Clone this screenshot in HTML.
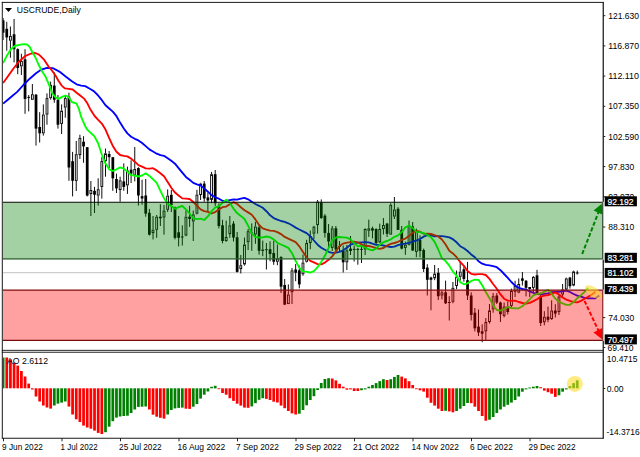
<!DOCTYPE html><html><head><meta charset="utf-8"><title>USCRUDE Daily</title>
<style>html,body{margin:0;padding:0;background:#fff}svg{display:block}text{font-family:"Liberation Sans",sans-serif;}</style></head><body>
<svg width="640" height="457" viewBox="0 0 640 457">
<rect x="0" y="0" width="640" height="457" fill="#fff"/>
<defs><clipPath id="cm"><rect x="2.8" y="2.9" width="599.7" height="347"/></clipPath><clipPath id="ca"><rect x="2.8" y="353" width="599.7" height="85"/></clipPath></defs>
<line x1="3" x2="603" y1="272.7" y2="272.7" stroke="#c0c0c0" stroke-width="0.95"/>
<g clip-path="url(#cm)">
<line x1="3.10" x2="3.10" y1="18.0" y2="40.0" stroke="#000" stroke-width="0.95"/>
<rect x="1.73" y="20.3" width="2.75" height="12.4" fill="#000"/>
<line x1="6.76" x2="6.76" y1="21.8" y2="50.7" stroke="#000" stroke-width="0.95"/>
<rect x="5.38" y="28.8" width="2.75" height="8.6" fill="#000"/>
<line x1="10.41" x2="10.41" y1="26.5" y2="35.9" stroke="#000" stroke-width="0.95"/>
<line x1="10.41" x2="10.41" y1="40.6" y2="57.8" stroke="#000" stroke-width="0.95"/>
<rect x="9.50" y="36.4" width="1.83" height="3.8" fill="#fff" stroke="#000" stroke-width="0.92"/>
<line x1="14.07" x2="14.07" y1="19.0" y2="62.4" stroke="#000" stroke-width="0.95"/>
<rect x="12.70" y="34.3" width="2.75" height="14.9" fill="#000"/>
<line x1="17.73" x2="17.73" y1="48.4" y2="74.2" stroke="#000" stroke-width="0.95"/>
<rect x="16.35" y="49.2" width="2.75" height="18.8" fill="#000"/>
<line x1="21.39" x2="21.39" y1="53.8" y2="60.9" stroke="#000" stroke-width="0.95"/>
<line x1="21.39" x2="21.39" y1="66.3" y2="75.0" stroke="#000" stroke-width="0.95"/>
<rect x="20.47" y="61.4" width="1.83" height="4.5" fill="#fff" stroke="#000" stroke-width="0.92"/>
<line x1="25.04" x2="25.04" y1="49.2" y2="113.8" stroke="#000" stroke-width="0.95"/>
<rect x="23.67" y="59.3" width="2.75" height="39.6" fill="#000"/>
<line x1="28.70" x2="28.70" y1="95.0" y2="111.4" stroke="#000" stroke-width="0.95"/>
<line x1="27.32" x2="30.07" y1="97.4" y2="97.4" stroke="#000" stroke-width="0.95"/>
<line x1="32.36" x2="32.36" y1="84.0" y2="94.2" stroke="#000" stroke-width="0.95"/>
<line x1="32.36" x2="32.36" y1="99.7" y2="99.7" stroke="#000" stroke-width="0.95"/>
<rect x="31.44" y="94.7" width="1.83" height="4.6" fill="#fff" stroke="#000" stroke-width="0.92"/>
<line x1="36.01" x2="36.01" y1="94.0" y2="145.6" stroke="#000" stroke-width="0.95"/>
<rect x="34.64" y="94.7" width="2.75" height="33.9" fill="#000"/>
<line x1="39.67" x2="39.67" y1="112.2" y2="142.5" stroke="#000" stroke-width="0.95"/>
<rect x="38.30" y="127.0" width="2.75" height="6.3" fill="#000"/>
<line x1="43.33" x2="43.33" y1="104.4" y2="114.5" stroke="#000" stroke-width="0.95"/>
<line x1="43.33" x2="43.33" y1="133.3" y2="135.6" stroke="#000" stroke-width="0.95"/>
<rect x="42.41" y="115.0" width="1.83" height="17.9" fill="#fff" stroke="#000" stroke-width="0.92"/>
<line x1="46.98" x2="46.98" y1="93.4" y2="98.1" stroke="#000" stroke-width="0.95"/>
<line x1="46.98" x2="46.98" y1="114.5" y2="124.7" stroke="#000" stroke-width="0.95"/>
<rect x="46.07" y="98.6" width="1.83" height="15.5" fill="#fff" stroke="#000" stroke-width="0.92"/>
<line x1="50.64" x2="50.64" y1="81.7" y2="84.8" stroke="#000" stroke-width="0.95"/>
<line x1="50.64" x2="50.64" y1="98.1" y2="99.7" stroke="#000" stroke-width="0.95"/>
<rect x="49.73" y="85.3" width="1.83" height="12.4" fill="#fff" stroke="#000" stroke-width="0.92"/>
<line x1="54.30" x2="54.30" y1="72.3" y2="102.8" stroke="#000" stroke-width="0.95"/>
<rect x="52.92" y="85.6" width="2.75" height="14.1" fill="#000"/>
<line x1="57.96" x2="57.96" y1="95.0" y2="128.6" stroke="#000" stroke-width="0.95"/>
<rect x="56.58" y="99.7" width="2.75" height="25.0" fill="#000"/>
<line x1="61.61" x2="61.61" y1="104.4" y2="110.6" stroke="#000" stroke-width="0.95"/>
<line x1="61.61" x2="61.61" y1="123.9" y2="134.0" stroke="#000" stroke-width="0.95"/>
<rect x="60.70" y="111.1" width="1.83" height="12.4" fill="#fff" stroke="#000" stroke-width="0.92"/>
<line x1="65.27" x2="65.27" y1="95.8" y2="98.1" stroke="#000" stroke-width="0.95"/>
<line x1="65.27" x2="65.27" y1="107.5" y2="117.7" stroke="#000" stroke-width="0.95"/>
<rect x="64.35" y="98.6" width="1.83" height="8.5" fill="#fff" stroke="#000" stroke-width="0.92"/>
<line x1="68.93" x2="68.93" y1="92.7" y2="180.8" stroke="#000" stroke-width="0.95"/>
<rect x="67.55" y="96.6" width="2.75" height="70.9" fill="#000"/>
<line x1="72.58" x2="72.58" y1="151.9" y2="196.4" stroke="#000" stroke-width="0.95"/>
<rect x="71.21" y="161.2" width="2.75" height="19.6" fill="#000"/>
<line x1="76.24" x2="76.24" y1="141.0" y2="154.2" stroke="#000" stroke-width="0.95"/>
<line x1="76.24" x2="76.24" y1="180.8" y2="191.0" stroke="#000" stroke-width="0.95"/>
<rect x="75.32" y="154.7" width="1.83" height="25.7" fill="#fff" stroke="#000" stroke-width="0.92"/>
<line x1="79.90" x2="79.90" y1="134.7" y2="137.8" stroke="#000" stroke-width="0.95"/>
<line x1="79.90" x2="79.90" y1="155.0" y2="159.0" stroke="#000" stroke-width="0.95"/>
<rect x="78.98" y="138.3" width="1.83" height="16.3" fill="#fff" stroke="#000" stroke-width="0.92"/>
<line x1="83.55" x2="83.55" y1="136.2" y2="162.8" stroke="#000" stroke-width="0.95"/>
<rect x="82.18" y="141.7" width="2.75" height="4.7" fill="#000"/>
<line x1="87.21" x2="87.21" y1="147.2" y2="196.4" stroke="#000" stroke-width="0.95"/>
<rect x="85.84" y="147.2" width="2.75" height="48.4" fill="#000"/>
<line x1="90.87" x2="90.87" y1="181.0" y2="190.0" stroke="#000" stroke-width="0.95"/>
<line x1="90.87" x2="90.87" y1="194.0" y2="216.0" stroke="#000" stroke-width="0.95"/>
<rect x="89.95" y="190.5" width="1.83" height="3.1" fill="#fff" stroke="#000" stroke-width="0.92"/>
<line x1="94.52" x2="94.52" y1="186.9" y2="213.0" stroke="#000" stroke-width="0.95"/>
<rect x="93.15" y="190.8" width="2.75" height="3.9" fill="#000"/>
<line x1="98.18" x2="98.18" y1="178.3" y2="189.2" stroke="#000" stroke-width="0.95"/>
<line x1="98.18" x2="98.18" y1="195.5" y2="205.6" stroke="#000" stroke-width="0.95"/>
<rect x="97.27" y="189.7" width="1.83" height="5.4" fill="#fff" stroke="#000" stroke-width="0.92"/>
<line x1="101.84" x2="101.84" y1="157.2" y2="161.1" stroke="#000" stroke-width="0.95"/>
<line x1="101.84" x2="101.84" y1="186.9" y2="198.6" stroke="#000" stroke-width="0.95"/>
<rect x="100.92" y="161.6" width="1.83" height="24.9" fill="#fff" stroke="#000" stroke-width="0.92"/>
<line x1="105.50" x2="105.50" y1="148.6" y2="153.3" stroke="#000" stroke-width="0.95"/>
<line x1="105.50" x2="105.50" y1="161.1" y2="176.7" stroke="#000" stroke-width="0.95"/>
<rect x="104.58" y="153.8" width="1.83" height="6.9" fill="#fff" stroke="#000" stroke-width="0.92"/>
<line x1="109.15" x2="109.15" y1="151.0" y2="168.0" stroke="#000" stroke-width="0.95"/>
<rect x="107.78" y="154.0" width="2.75" height="3.2" fill="#000"/>
<line x1="112.81" x2="112.81" y1="157.2" y2="190.8" stroke="#000" stroke-width="0.95"/>
<rect x="111.44" y="157.2" width="2.75" height="21.1" fill="#000"/>
<line x1="116.47" x2="116.47" y1="173.6" y2="193.0" stroke="#000" stroke-width="0.95"/>
<rect x="115.09" y="179.0" width="2.75" height="9.4" fill="#000"/>
<line x1="120.12" x2="120.12" y1="176.7" y2="180.3" stroke="#000" stroke-width="0.95"/>
<line x1="120.12" x2="120.12" y1="190.0" y2="201.7" stroke="#000" stroke-width="0.95"/>
<rect x="119.21" y="180.8" width="1.83" height="8.8" fill="#fff" stroke="#000" stroke-width="0.92"/>
<line x1="123.78" x2="123.78" y1="163.4" y2="190.8" stroke="#000" stroke-width="0.95"/>
<rect x="122.41" y="181.4" width="2.75" height="5.5" fill="#000"/>
<line x1="127.44" x2="127.44" y1="166.6" y2="170.5" stroke="#000" stroke-width="0.95"/>
<line x1="127.44" x2="127.44" y1="185.3" y2="193.9" stroke="#000" stroke-width="0.95"/>
<rect x="126.52" y="171.0" width="1.83" height="13.9" fill="#fff" stroke="#000" stroke-width="0.92"/>
<line x1="131.09" x2="131.09" y1="160.3" y2="183.0" stroke="#000" stroke-width="0.95"/>
<rect x="129.72" y="169.7" width="2.75" height="3.9" fill="#000"/>
<line x1="134.75" x2="134.75" y1="147.0" y2="168.9" stroke="#000" stroke-width="0.95"/>
<line x1="134.75" x2="134.75" y1="175.2" y2="181.4" stroke="#000" stroke-width="0.95"/>
<rect x="133.84" y="169.4" width="1.83" height="5.4" fill="#fff" stroke="#000" stroke-width="0.92"/>
<line x1="138.41" x2="138.41" y1="167.3" y2="205.6" stroke="#000" stroke-width="0.95"/>
<rect x="137.03" y="168.1" width="2.75" height="27.4" fill="#000"/>
<line x1="142.07" x2="142.07" y1="179.8" y2="204.8" stroke="#000" stroke-width="0.95"/>
<rect x="140.69" y="196.2" width="2.75" height="2.3" fill="#000"/>
<line x1="145.72" x2="145.72" y1="179.0" y2="216.7" stroke="#000" stroke-width="0.95"/>
<rect x="144.35" y="195.5" width="2.75" height="18.1" fill="#000"/>
<line x1="149.38" x2="149.38" y1="208.9" y2="235.5" stroke="#000" stroke-width="0.95"/>
<rect x="148.00" y="212.8" width="2.75" height="21.9" fill="#000"/>
<line x1="153.04" x2="153.04" y1="216.0" y2="229.7" stroke="#000" stroke-width="0.95"/>
<line x1="153.04" x2="153.04" y1="233.0" y2="239.4" stroke="#000" stroke-width="0.95"/>
<rect x="152.12" y="230.2" width="1.83" height="2.4" fill="#fff" stroke="#000" stroke-width="0.92"/>
<line x1="156.69" x2="156.69" y1="215.0" y2="216.7" stroke="#000" stroke-width="0.95"/>
<line x1="156.69" x2="156.69" y1="229.7" y2="237.8" stroke="#000" stroke-width="0.95"/>
<rect x="155.78" y="217.2" width="1.83" height="12.1" fill="#fff" stroke="#000" stroke-width="0.92"/>
<line x1="160.35" x2="160.35" y1="204.2" y2="226.0" stroke="#000" stroke-width="0.95"/>
<rect x="158.98" y="216.7" width="2.75" height="1.6" fill="#000"/>
<line x1="164.01" x2="164.01" y1="205.0" y2="210.5" stroke="#000" stroke-width="0.95"/>
<line x1="164.01" x2="164.01" y1="217.5" y2="234.7" stroke="#000" stroke-width="0.95"/>
<rect x="163.09" y="211.0" width="1.83" height="6.1" fill="#fff" stroke="#000" stroke-width="0.92"/>
<line x1="167.66" x2="167.66" y1="189.4" y2="195.6" stroke="#000" stroke-width="0.95"/>
<line x1="167.66" x2="167.66" y1="209.7" y2="212.0" stroke="#000" stroke-width="0.95"/>
<rect x="166.75" y="196.1" width="1.83" height="13.2" fill="#fff" stroke="#000" stroke-width="0.92"/>
<line x1="171.32" x2="171.32" y1="190.0" y2="212.0" stroke="#000" stroke-width="0.95"/>
<rect x="169.95" y="194.8" width="2.75" height="10.2" fill="#000"/>
<line x1="174.98" x2="174.98" y1="206.6" y2="239.4" stroke="#000" stroke-width="0.95"/>
<rect x="173.60" y="207.3" width="2.75" height="30.5" fill="#000"/>
<line x1="178.64" x2="178.64" y1="216.0" y2="246.4" stroke="#000" stroke-width="0.95"/>
<rect x="177.26" y="232.3" width="2.75" height="5.5" fill="#000"/>
<line x1="182.29" x2="182.29" y1="225.3" y2="245.6" stroke="#000" stroke-width="0.95"/>
<line x1="180.92" x2="183.67" y1="237.0" y2="237.0" stroke="#000" stroke-width="0.95"/>
<line x1="185.95" x2="185.95" y1="210.5" y2="216.7" stroke="#000" stroke-width="0.95"/>
<line x1="185.95" x2="185.95" y1="235.5" y2="236.2" stroke="#000" stroke-width="0.95"/>
<rect x="185.03" y="217.2" width="1.83" height="17.9" fill="#fff" stroke="#000" stroke-width="0.92"/>
<line x1="189.61" x2="189.61" y1="205.8" y2="226.9" stroke="#000" stroke-width="0.95"/>
<rect x="188.23" y="216.7" width="2.75" height="2.3" fill="#000"/>
<line x1="193.26" x2="193.26" y1="210.5" y2="214.4" stroke="#000" stroke-width="0.95"/>
<line x1="193.26" x2="193.26" y1="221.4" y2="241.0" stroke="#000" stroke-width="0.95"/>
<rect x="192.35" y="214.9" width="1.83" height="6.1" fill="#fff" stroke="#000" stroke-width="0.92"/>
<line x1="196.92" x2="196.92" y1="189.8" y2="194.6" stroke="#000" stroke-width="0.95"/>
<line x1="196.92" x2="196.92" y1="213.6" y2="214.4" stroke="#000" stroke-width="0.95"/>
<rect x="196.01" y="195.1" width="1.83" height="18.1" fill="#fff" stroke="#000" stroke-width="0.92"/>
<line x1="200.58" x2="200.58" y1="182.8" y2="183.6" stroke="#000" stroke-width="0.95"/>
<line x1="200.58" x2="200.58" y1="195.0" y2="200.0" stroke="#000" stroke-width="0.95"/>
<rect x="199.66" y="184.1" width="1.83" height="10.5" fill="#fff" stroke="#000" stroke-width="0.92"/>
<line x1="204.23" x2="204.23" y1="181.0" y2="201.7" stroke="#000" stroke-width="0.95"/>
<rect x="202.86" y="183.6" width="2.75" height="14.9" fill="#000"/>
<line x1="207.89" x2="207.89" y1="192.5" y2="211.2" stroke="#000" stroke-width="0.95"/>
<rect x="206.52" y="197.4" width="2.75" height="3.1" fill="#000"/>
<line x1="211.55" x2="211.55" y1="171.9" y2="174.2" stroke="#000" stroke-width="0.95"/>
<line x1="211.55" x2="211.55" y1="199.8" y2="203.2" stroke="#000" stroke-width="0.95"/>
<rect x="210.63" y="174.7" width="1.83" height="24.7" fill="#fff" stroke="#000" stroke-width="0.92"/>
<line x1="215.21" x2="215.21" y1="170.0" y2="206.0" stroke="#000" stroke-width="0.95"/>
<rect x="213.83" y="174.2" width="2.75" height="29.0" fill="#000"/>
<line x1="218.86" x2="218.86" y1="203.4" y2="228.4" stroke="#000" stroke-width="0.95"/>
<rect x="217.49" y="205.8" width="2.75" height="20.2" fill="#000"/>
<line x1="222.52" x2="222.52" y1="219.8" y2="243.3" stroke="#000" stroke-width="0.95"/>
<rect x="221.15" y="225.3" width="2.75" height="15.7" fill="#000"/>
<line x1="226.18" x2="226.18" y1="220.6" y2="237.0" stroke="#000" stroke-width="0.95"/>
<line x1="226.18" x2="226.18" y1="241.0" y2="241.7" stroke="#000" stroke-width="0.95"/>
<rect x="225.26" y="237.5" width="1.83" height="3.1" fill="#fff" stroke="#000" stroke-width="0.92"/>
<line x1="229.83" x2="229.83" y1="216.0" y2="225.3" stroke="#000" stroke-width="0.95"/>
<line x1="229.83" x2="229.83" y1="234.0" y2="237.8" stroke="#000" stroke-width="0.95"/>
<rect x="228.92" y="225.8" width="1.83" height="7.8" fill="#fff" stroke="#000" stroke-width="0.92"/>
<line x1="233.49" x2="233.49" y1="221.2" y2="241.5" stroke="#000" stroke-width="0.95"/>
<rect x="232.12" y="223.6" width="2.75" height="14.0" fill="#000"/>
<line x1="237.15" x2="237.15" y1="232.0" y2="272.5" stroke="#000" stroke-width="0.95"/>
<rect x="235.77" y="237.3" width="2.75" height="34.6" fill="#000"/>
<line x1="240.81" x2="240.81" y1="255.0" y2="265.2" stroke="#000" stroke-width="0.95"/>
<line x1="240.81" x2="240.81" y1="269.0" y2="273.4" stroke="#000" stroke-width="0.95"/>
<rect x="239.89" y="265.7" width="1.83" height="2.9" fill="#fff" stroke="#000" stroke-width="0.92"/>
<line x1="244.46" x2="244.46" y1="237.5" y2="244.5" stroke="#000" stroke-width="0.95"/>
<line x1="244.46" x2="244.46" y1="264.4" y2="265.6" stroke="#000" stroke-width="0.95"/>
<rect x="243.55" y="245.0" width="1.83" height="19.0" fill="#fff" stroke="#000" stroke-width="0.92"/>
<line x1="248.12" x2="248.12" y1="229.0" y2="231.2" stroke="#000" stroke-width="0.95"/>
<line x1="248.12" x2="248.12" y1="242.2" y2="250.0" stroke="#000" stroke-width="0.95"/>
<rect x="247.20" y="231.7" width="1.83" height="10.0" fill="#fff" stroke="#000" stroke-width="0.92"/>
<line x1="251.78" x2="251.78" y1="223.4" y2="250.8" stroke="#000" stroke-width="0.95"/>
<line x1="250.40" x2="253.15" y1="233.0" y2="233.0" stroke="#000" stroke-width="0.95"/>
<line x1="255.43" x2="255.43" y1="221.9" y2="226.5" stroke="#000" stroke-width="0.95"/>
<line x1="255.43" x2="255.43" y1="234.4" y2="243.8" stroke="#000" stroke-width="0.95"/>
<rect x="254.52" y="227.0" width="1.83" height="7.0" fill="#fff" stroke="#000" stroke-width="0.92"/>
<line x1="259.09" x2="259.09" y1="225.0" y2="254.7" stroke="#000" stroke-width="0.95"/>
<rect x="257.72" y="227.3" width="2.75" height="23.5" fill="#000"/>
<line x1="262.75" x2="262.75" y1="240.6" y2="249.5" stroke="#000" stroke-width="0.95"/>
<line x1="262.75" x2="262.75" y1="250.8" y2="256.2" stroke="#000" stroke-width="0.95"/>
<rect x="261.83" y="250.0" width="1.83" height="0.5" fill="#fff" stroke="#000" stroke-width="0.92"/>
<line x1="266.40" x2="266.40" y1="243.0" y2="269.5" stroke="#000" stroke-width="0.95"/>
<line x1="265.03" x2="267.78" y1="249.7" y2="249.7" stroke="#000" stroke-width="0.95"/>
<line x1="270.06" x2="270.06" y1="241.4" y2="261.3" stroke="#000" stroke-width="0.95"/>
<rect x="268.69" y="249.2" width="2.75" height="4.8" fill="#000"/>
<line x1="273.72" x2="273.72" y1="240.6" y2="264.8" stroke="#000" stroke-width="0.95"/>
<rect x="272.34" y="253.0" width="2.75" height="8.7" fill="#000"/>
<line x1="277.38" x2="277.38" y1="244.5" y2="258.6" stroke="#000" stroke-width="0.95"/>
<line x1="277.38" x2="277.38" y1="261.7" y2="265.2" stroke="#000" stroke-width="0.95"/>
<rect x="276.46" y="259.1" width="1.83" height="2.2" fill="#fff" stroke="#000" stroke-width="0.92"/>
<line x1="281.03" x2="281.03" y1="256.2" y2="293.0" stroke="#000" stroke-width="0.95"/>
<rect x="279.66" y="257.0" width="2.75" height="29.7" fill="#000"/>
<line x1="284.69" x2="284.69" y1="279.0" y2="304.7" stroke="#000" stroke-width="0.95"/>
<rect x="283.31" y="285.0" width="2.75" height="19.7" fill="#000"/>
<line x1="288.35" x2="288.35" y1="284.4" y2="294.5" stroke="#000" stroke-width="0.95"/>
<line x1="288.35" x2="288.35" y1="304.0" y2="304.0" stroke="#000" stroke-width="0.95"/>
<rect x="287.43" y="295.0" width="1.83" height="8.6" fill="#fff" stroke="#000" stroke-width="0.92"/>
<line x1="292.00" x2="292.00" y1="268.0" y2="270.3" stroke="#000" stroke-width="0.95"/>
<line x1="292.00" x2="292.00" y1="292.2" y2="304.0" stroke="#000" stroke-width="0.95"/>
<rect x="291.09" y="270.8" width="1.83" height="21.0" fill="#fff" stroke="#000" stroke-width="0.92"/>
<line x1="295.66" x2="295.66" y1="264.0" y2="281.2" stroke="#000" stroke-width="0.95"/>
<rect x="294.29" y="269.5" width="2.75" height="3.2" fill="#000"/>
<line x1="299.32" x2="299.32" y1="265.6" y2="288.3" stroke="#000" stroke-width="0.95"/>
<rect x="297.94" y="270.3" width="2.75" height="14.1" fill="#000"/>
<line x1="302.97" x2="302.97" y1="254.7" y2="262.5" stroke="#000" stroke-width="0.95"/>
<line x1="302.97" x2="302.97" y1="274.2" y2="275.8" stroke="#000" stroke-width="0.95"/>
<rect x="302.06" y="263.0" width="1.83" height="10.8" fill="#fff" stroke="#000" stroke-width="0.92"/>
<line x1="306.63" x2="306.63" y1="239.8" y2="243.0" stroke="#000" stroke-width="0.95"/>
<line x1="306.63" x2="306.63" y1="261.7" y2="262.5" stroke="#000" stroke-width="0.95"/>
<rect x="305.72" y="243.5" width="1.83" height="17.8" fill="#fff" stroke="#000" stroke-width="0.92"/>
<line x1="310.29" x2="310.29" y1="230.5" y2="236.0" stroke="#000" stroke-width="0.95"/>
<line x1="310.29" x2="310.29" y1="243.0" y2="249.2" stroke="#000" stroke-width="0.95"/>
<rect x="309.37" y="236.5" width="1.83" height="6.1" fill="#fff" stroke="#000" stroke-width="0.92"/>
<line x1="313.95" x2="313.95" y1="225.8" y2="226.6" stroke="#000" stroke-width="0.95"/>
<line x1="313.95" x2="313.95" y1="233.6" y2="239.0" stroke="#000" stroke-width="0.95"/>
<rect x="313.03" y="227.1" width="1.83" height="6.1" fill="#fff" stroke="#000" stroke-width="0.92"/>
<line x1="317.60" x2="317.60" y1="200.0" y2="201.6" stroke="#000" stroke-width="0.95"/>
<line x1="317.60" x2="317.60" y1="225.0" y2="233.6" stroke="#000" stroke-width="0.95"/>
<rect x="316.69" y="202.1" width="1.83" height="22.5" fill="#fff" stroke="#000" stroke-width="0.92"/>
<line x1="321.26" x2="321.26" y1="199.4" y2="218.9" stroke="#000" stroke-width="0.95"/>
<rect x="319.88" y="202.5" width="2.75" height="15.5" fill="#000"/>
<line x1="324.92" x2="324.92" y1="214.1" y2="237.6" stroke="#000" stroke-width="0.95"/>
<rect x="323.54" y="215.7" width="2.75" height="17.3" fill="#000"/>
<line x1="328.57" x2="328.57" y1="224.0" y2="247.4" stroke="#000" stroke-width="0.95"/>
<rect x="327.20" y="232.9" width="2.75" height="8.6" fill="#000"/>
<line x1="332.23" x2="332.23" y1="226.0" y2="228.3" stroke="#000" stroke-width="0.95"/>
<line x1="332.23" x2="332.23" y1="247.8" y2="251.0" stroke="#000" stroke-width="0.95"/>
<rect x="331.31" y="228.8" width="1.83" height="18.6" fill="#fff" stroke="#000" stroke-width="0.92"/>
<line x1="335.89" x2="335.89" y1="226.0" y2="251.7" stroke="#000" stroke-width="0.95"/>
<rect x="334.51" y="228.3" width="2.75" height="21.1" fill="#000"/>
<line x1="339.54" x2="339.54" y1="241.0" y2="252.0" stroke="#000" stroke-width="0.95"/>
<line x1="338.17" x2="340.92" y1="246.5" y2="246.5" stroke="#000" stroke-width="0.95"/>
<line x1="343.20" x2="343.20" y1="245.5" y2="272.5" stroke="#000" stroke-width="0.95"/>
<rect x="341.83" y="250.8" width="2.75" height="11.5" fill="#000"/>
<line x1="346.86" x2="346.86" y1="245.0" y2="250.3" stroke="#000" stroke-width="0.95"/>
<line x1="346.86" x2="346.86" y1="262.3" y2="270.0" stroke="#000" stroke-width="0.95"/>
<rect x="345.94" y="250.8" width="1.83" height="11.1" fill="#fff" stroke="#000" stroke-width="0.92"/>
<line x1="350.52" x2="350.52" y1="236.0" y2="255.0" stroke="#000" stroke-width="0.95"/>
<rect x="349.14" y="248.6" width="2.75" height="2.4" fill="#000"/>
<line x1="354.17" x2="354.17" y1="245.5" y2="261.5" stroke="#000" stroke-width="0.95"/>
<line x1="352.80" x2="355.55" y1="249.4" y2="249.4" stroke="#000" stroke-width="0.95"/>
<line x1="357.83" x2="357.83" y1="247.8" y2="264.7" stroke="#000" stroke-width="0.95"/>
<line x1="356.45" x2="359.20" y1="249.4" y2="249.4" stroke="#000" stroke-width="0.95"/>
<line x1="361.49" x2="361.49" y1="247.0" y2="263.0" stroke="#000" stroke-width="0.95"/>
<line x1="360.11" x2="362.86" y1="249.4" y2="249.4" stroke="#000" stroke-width="0.95"/>
<line x1="365.14" x2="365.14" y1="228.3" y2="229.0" stroke="#000" stroke-width="0.95"/>
<line x1="365.14" x2="365.14" y1="249.4" y2="255.0" stroke="#000" stroke-width="0.95"/>
<rect x="364.23" y="229.5" width="1.83" height="19.5" fill="#fff" stroke="#000" stroke-width="0.92"/>
<line x1="368.80" x2="368.80" y1="219.7" y2="228.3" stroke="#000" stroke-width="0.95"/>
<line x1="368.80" x2="368.80" y1="230.6" y2="236.9" stroke="#000" stroke-width="0.95"/>
<rect x="367.88" y="228.8" width="1.83" height="1.4" fill="#fff" stroke="#000" stroke-width="0.92"/>
<line x1="372.46" x2="372.46" y1="226.7" y2="238.4" stroke="#000" stroke-width="0.95"/>
<rect x="371.08" y="228.3" width="2.75" height="2.3" fill="#000"/>
<line x1="376.11" x2="376.11" y1="228.3" y2="244.0" stroke="#000" stroke-width="0.95"/>
<rect x="374.74" y="229.0" width="2.75" height="14.0" fill="#000"/>
<line x1="379.77" x2="379.77" y1="223.6" y2="229.0" stroke="#000" stroke-width="0.95"/>
<line x1="379.77" x2="379.77" y1="242.3" y2="243.0" stroke="#000" stroke-width="0.95"/>
<rect x="378.86" y="229.5" width="1.83" height="12.4" fill="#fff" stroke="#000" stroke-width="0.92"/>
<line x1="383.43" x2="383.43" y1="218.0" y2="225.0" stroke="#000" stroke-width="0.95"/>
<line x1="383.43" x2="383.43" y1="229.0" y2="234.5" stroke="#000" stroke-width="0.95"/>
<rect x="382.51" y="225.5" width="1.83" height="3.1" fill="#fff" stroke="#000" stroke-width="0.92"/>
<line x1="387.09" x2="387.09" y1="222.8" y2="237.0" stroke="#000" stroke-width="0.95"/>
<rect x="385.71" y="223.6" width="2.75" height="10.2" fill="#000"/>
<line x1="390.74" x2="390.74" y1="203.3" y2="204.8" stroke="#000" stroke-width="0.95"/>
<line x1="390.74" x2="390.74" y1="234.5" y2="234.5" stroke="#000" stroke-width="0.95"/>
<rect x="389.83" y="205.3" width="1.83" height="28.8" fill="#fff" stroke="#000" stroke-width="0.92"/>
<line x1="394.40" x2="394.40" y1="197.0" y2="209.5" stroke="#000" stroke-width="0.95"/>
<line x1="394.40" x2="394.40" y1="216.5" y2="219.0" stroke="#000" stroke-width="0.95"/>
<rect x="393.48" y="210.0" width="1.83" height="6.1" fill="#fff" stroke="#000" stroke-width="0.92"/>
<line x1="398.06" x2="398.06" y1="207.2" y2="229.8" stroke="#000" stroke-width="0.95"/>
<rect x="396.68" y="208.8" width="2.75" height="21.1" fill="#000"/>
<line x1="401.71" x2="401.71" y1="226.0" y2="249.4" stroke="#000" stroke-width="0.95"/>
<rect x="400.34" y="229.8" width="2.75" height="18.8" fill="#000"/>
<line x1="405.37" x2="405.37" y1="241.6" y2="244.7" stroke="#000" stroke-width="0.95"/>
<line x1="405.37" x2="405.37" y1="247.8" y2="254.8" stroke="#000" stroke-width="0.95"/>
<rect x="404.45" y="245.2" width="1.83" height="2.2" fill="#fff" stroke="#000" stroke-width="0.92"/>
<line x1="409.03" x2="409.03" y1="220.5" y2="226.0" stroke="#000" stroke-width="0.95"/>
<line x1="409.03" x2="409.03" y1="244.7" y2="245.5" stroke="#000" stroke-width="0.95"/>
<rect x="408.11" y="226.5" width="1.83" height="17.8" fill="#fff" stroke="#000" stroke-width="0.92"/>
<line x1="412.68" x2="412.68" y1="222.0" y2="251.0" stroke="#000" stroke-width="0.95"/>
<rect x="411.31" y="226.4" width="2.75" height="24.1" fill="#000"/>
<line x1="416.34" x2="416.34" y1="228.6" y2="232.1" stroke="#000" stroke-width="0.95"/>
<line x1="416.34" x2="416.34" y1="251.8" y2="257.2" stroke="#000" stroke-width="0.95"/>
<rect x="415.43" y="232.6" width="1.83" height="18.8" fill="#fff" stroke="#000" stroke-width="0.92"/>
<line x1="420.00" x2="420.00" y1="235.3" y2="257.2" stroke="#000" stroke-width="0.95"/>
<rect x="418.62" y="240.0" width="2.75" height="11.0" fill="#000"/>
<line x1="423.66" x2="423.66" y1="248.6" y2="272.0" stroke="#000" stroke-width="0.95"/>
<rect x="422.28" y="250.0" width="2.75" height="19.0" fill="#000"/>
<line x1="427.31" x2="427.31" y1="264.2" y2="295.5" stroke="#000" stroke-width="0.95"/>
<rect x="425.94" y="267.6" width="2.75" height="12.2" fill="#000"/>
<line x1="430.97" x2="430.97" y1="276.7" y2="310.3" stroke="#000" stroke-width="0.95"/>
<rect x="429.59" y="277.5" width="2.75" height="2.3" fill="#000"/>
<line x1="434.63" x2="434.63" y1="265.0" y2="273.6" stroke="#000" stroke-width="0.95"/>
<line x1="434.63" x2="434.63" y1="278.3" y2="280.2" stroke="#000" stroke-width="0.95"/>
<rect x="433.71" y="274.1" width="1.83" height="3.8" fill="#fff" stroke="#000" stroke-width="0.92"/>
<line x1="438.28" x2="438.28" y1="268.0" y2="300.0" stroke="#000" stroke-width="0.95"/>
<rect x="436.91" y="272.8" width="2.75" height="23.4" fill="#000"/>
<line x1="441.94" x2="441.94" y1="290.8" y2="292.3" stroke="#000" stroke-width="0.95"/>
<line x1="441.94" x2="441.94" y1="295.5" y2="299.4" stroke="#000" stroke-width="0.95"/>
<rect x="441.03" y="292.8" width="1.83" height="2.3" fill="#fff" stroke="#000" stroke-width="0.92"/>
<line x1="445.60" x2="445.60" y1="280.6" y2="304.0" stroke="#000" stroke-width="0.95"/>
<rect x="444.22" y="292.3" width="2.75" height="11.0" fill="#000"/>
<line x1="449.25" x2="449.25" y1="296.2" y2="320.5" stroke="#000" stroke-width="0.95"/>
<line x1="447.88" x2="450.63" y1="302.5" y2="302.5" stroke="#000" stroke-width="0.95"/>
<line x1="452.91" x2="452.91" y1="282.0" y2="287.7" stroke="#000" stroke-width="0.95"/>
<line x1="452.91" x2="452.91" y1="301.7" y2="303.3" stroke="#000" stroke-width="0.95"/>
<rect x="452.00" y="288.2" width="1.83" height="13.1" fill="#fff" stroke="#000" stroke-width="0.92"/>
<line x1="456.57" x2="456.57" y1="270.5" y2="276.7" stroke="#000" stroke-width="0.95"/>
<line x1="456.57" x2="456.57" y1="286.0" y2="289.2" stroke="#000" stroke-width="0.95"/>
<rect x="455.65" y="277.2" width="1.83" height="8.4" fill="#fff" stroke="#000" stroke-width="0.92"/>
<line x1="460.23" x2="460.23" y1="261.9" y2="271.6" stroke="#000" stroke-width="0.95"/>
<line x1="460.23" x2="460.23" y1="276.7" y2="280.6" stroke="#000" stroke-width="0.95"/>
<rect x="459.31" y="272.1" width="1.83" height="4.2" fill="#fff" stroke="#000" stroke-width="0.92"/>
<line x1="463.88" x2="463.88" y1="266.5" y2="281.7" stroke="#000" stroke-width="0.95"/>
<rect x="462.51" y="269.3" width="2.75" height="9.7" fill="#000"/>
<line x1="467.54" x2="467.54" y1="261.9" y2="300.0" stroke="#000" stroke-width="0.95"/>
<rect x="466.16" y="280.2" width="2.75" height="15.3" fill="#000"/>
<line x1="471.20" x2="471.20" y1="292.3" y2="320.5" stroke="#000" stroke-width="0.95"/>
<rect x="469.82" y="295.5" width="2.75" height="19.5" fill="#000"/>
<line x1="474.85" x2="474.85" y1="308.0" y2="331.4" stroke="#000" stroke-width="0.95"/>
<rect x="473.48" y="312.7" width="2.75" height="15.6" fill="#000"/>
<line x1="478.51" x2="478.51" y1="309.5" y2="336.0" stroke="#000" stroke-width="0.95"/>
<rect x="477.14" y="326.6" width="2.75" height="5.9" fill="#000"/>
<line x1="482.17" x2="482.17" y1="324.3" y2="342.2" stroke="#000" stroke-width="0.95"/>
<rect x="480.79" y="331.3" width="2.75" height="2.4" fill="#000"/>
<line x1="485.82" x2="485.82" y1="318.0" y2="322.0" stroke="#000" stroke-width="0.95"/>
<line x1="485.82" x2="485.82" y1="331.3" y2="339.8" stroke="#000" stroke-width="0.95"/>
<rect x="484.91" y="322.5" width="1.83" height="8.4" fill="#fff" stroke="#000" stroke-width="0.92"/>
<line x1="489.48" x2="489.48" y1="304.0" y2="310.3" stroke="#000" stroke-width="0.95"/>
<line x1="489.48" x2="489.48" y1="322.0" y2="323.6" stroke="#000" stroke-width="0.95"/>
<rect x="488.57" y="310.8" width="1.83" height="10.8" fill="#fff" stroke="#000" stroke-width="0.92"/>
<line x1="493.14" x2="493.14" y1="293.0" y2="296.2" stroke="#000" stroke-width="0.95"/>
<line x1="493.14" x2="493.14" y1="309.5" y2="312.7" stroke="#000" stroke-width="0.95"/>
<rect x="492.22" y="296.7" width="1.83" height="12.3" fill="#fff" stroke="#000" stroke-width="0.92"/>
<line x1="496.80" x2="496.80" y1="293.0" y2="304.0" stroke="#000" stroke-width="0.95"/>
<rect x="495.42" y="295.5" width="2.75" height="7.0" fill="#000"/>
<line x1="500.45" x2="500.45" y1="301.7" y2="322.0" stroke="#000" stroke-width="0.95"/>
<rect x="499.08" y="302.5" width="2.75" height="11.7" fill="#000"/>
<line x1="504.11" x2="504.11" y1="302.5" y2="306.4" stroke="#000" stroke-width="0.95"/>
<line x1="504.11" x2="504.11" y1="315.8" y2="317.3" stroke="#000" stroke-width="0.95"/>
<rect x="503.19" y="306.9" width="1.83" height="8.5" fill="#fff" stroke="#000" stroke-width="0.92"/>
<line x1="507.77" x2="507.77" y1="301.5" y2="314.5" stroke="#000" stroke-width="0.95"/>
<rect x="506.39" y="306.4" width="2.75" height="5.6" fill="#000"/>
<line x1="511.42" x2="511.42" y1="288.6" y2="291.0" stroke="#000" stroke-width="0.95"/>
<line x1="511.42" x2="511.42" y1="305.8" y2="307.3" stroke="#000" stroke-width="0.95"/>
<rect x="510.51" y="291.5" width="1.83" height="13.9" fill="#fff" stroke="#000" stroke-width="0.92"/>
<line x1="515.08" x2="515.08" y1="280.8" y2="285.5" stroke="#000" stroke-width="0.95"/>
<line x1="515.08" x2="515.08" y1="291.7" y2="297.0" stroke="#000" stroke-width="0.95"/>
<rect x="514.17" y="286.0" width="1.83" height="5.3" fill="#fff" stroke="#000" stroke-width="0.92"/>
<line x1="518.74" x2="518.74" y1="278.4" y2="284.0" stroke="#000" stroke-width="0.95"/>
<line x1="518.74" x2="518.74" y1="292.5" y2="293.3" stroke="#000" stroke-width="0.95"/>
<rect x="517.82" y="284.5" width="1.83" height="7.6" fill="#fff" stroke="#000" stroke-width="0.92"/>
<line x1="522.39" x2="522.39" y1="272.0" y2="285.5" stroke="#000" stroke-width="0.95"/>
<rect x="521.02" y="278.4" width="2.75" height="2.4" fill="#000"/>
<line x1="526.05" x2="526.05" y1="280.0" y2="296.4" stroke="#000" stroke-width="0.95"/>
<rect x="524.68" y="280.8" width="2.75" height="7.0" fill="#000"/>
<line x1="529.71" x2="529.71" y1="287.0" y2="297.0" stroke="#000" stroke-width="0.95"/>
<rect x="528.33" y="287.0" width="2.75" height="2.0" fill="#000"/>
<line x1="533.37" x2="533.37" y1="276.0" y2="276.9" stroke="#000" stroke-width="0.95"/>
<line x1="533.37" x2="533.37" y1="287.8" y2="292.5" stroke="#000" stroke-width="0.95"/>
<rect x="532.45" y="277.4" width="1.83" height="10.0" fill="#fff" stroke="#000" stroke-width="0.92"/>
<line x1="537.02" x2="537.02" y1="269.8" y2="295.0" stroke="#000" stroke-width="0.95"/>
<rect x="535.65" y="275.3" width="2.75" height="18.7" fill="#000"/>
<line x1="540.68" x2="540.68" y1="292.5" y2="326.0" stroke="#000" stroke-width="0.95"/>
<rect x="539.30" y="296.4" width="2.75" height="26.6" fill="#000"/>
<line x1="544.34" x2="544.34" y1="311.2" y2="316.7" stroke="#000" stroke-width="0.95"/>
<line x1="544.34" x2="544.34" y1="322.2" y2="325.3" stroke="#000" stroke-width="0.95"/>
<rect x="543.42" y="317.2" width="1.83" height="4.6" fill="#fff" stroke="#000" stroke-width="0.92"/>
<line x1="547.99" x2="547.99" y1="306.6" y2="322.2" stroke="#000" stroke-width="0.95"/>
<rect x="546.62" y="316.7" width="2.75" height="3.1" fill="#000"/>
<line x1="551.65" x2="551.65" y1="300.3" y2="310.5" stroke="#000" stroke-width="0.95"/>
<line x1="551.65" x2="551.65" y1="319.0" y2="319.8" stroke="#000" stroke-width="0.95"/>
<rect x="550.74" y="311.0" width="1.83" height="7.6" fill="#fff" stroke="#000" stroke-width="0.92"/>
<line x1="555.31" x2="555.31" y1="304.2" y2="317.5" stroke="#000" stroke-width="0.95"/>
<rect x="553.93" y="310.5" width="2.75" height="3.1" fill="#000"/>
<line x1="558.96" x2="558.96" y1="294.0" y2="296.4" stroke="#000" stroke-width="0.95"/>
<line x1="558.96" x2="558.96" y1="312.0" y2="315.0" stroke="#000" stroke-width="0.95"/>
<rect x="558.05" y="296.9" width="1.83" height="14.7" fill="#fff" stroke="#000" stroke-width="0.92"/>
<line x1="562.62" x2="562.62" y1="284.0" y2="289.5" stroke="#000" stroke-width="0.95"/>
<line x1="562.62" x2="562.62" y1="294.5" y2="297.0" stroke="#000" stroke-width="0.95"/>
<rect x="561.71" y="290.0" width="1.83" height="4.1" fill="#fff" stroke="#000" stroke-width="0.92"/>
<line x1="566.28" x2="566.28" y1="277.6" y2="278.4" stroke="#000" stroke-width="0.95"/>
<line x1="566.28" x2="566.28" y1="289.4" y2="290.0" stroke="#000" stroke-width="0.95"/>
<rect x="565.36" y="278.9" width="1.83" height="10.1" fill="#fff" stroke="#000" stroke-width="0.92"/>
<line x1="569.94" x2="569.94" y1="276.9" y2="288.6" stroke="#000" stroke-width="0.95"/>
<rect x="568.56" y="277.6" width="2.75" height="8.6" fill="#000"/>
<line x1="573.59" x2="573.59" y1="270.6" y2="271.4" stroke="#000" stroke-width="0.95"/>
<line x1="573.59" x2="573.59" y1="285.5" y2="286.2" stroke="#000" stroke-width="0.95"/>
<rect x="572.68" y="271.9" width="1.83" height="13.2" fill="#fff" stroke="#000" stroke-width="0.92"/>
<line x1="577.25" x2="577.25" y1="270.6" y2="274.5" stroke="#000" stroke-width="0.95"/>
<line x1="575.87" x2="578.62" y1="273.0" y2="273.0" stroke="#000" stroke-width="0.95"/>
<path d="M3.1,103.6 L7.8,99.7 L12.5,95.8 L17.2,91.9 L23.4,85.0 L29.7,78.7 L36.0,73.2 L41.4,69.6 L46.9,67.9 L53.1,68.2 L59.4,71.6 L65.6,76.4 L71.9,81.2 L76.6,84.3 L81.2,85.6 L85.2,86.1 L89.8,88.8 L93.8,91.1 L97.7,95.0 L101.9,100.2 L105.5,105.3 L109.2,108.5 L112.8,111.6 L116.5,116.2 L120.1,122.6 L123.8,128.5 L127.4,133.4 L131.1,136.8 L134.8,138.8 L138.4,140.4 L142.1,143.0 L145.7,146.1 L149.4,149.4 L153.0,151.5 L156.7,153.7 L160.4,155.1 L164.0,155.8 L167.7,158.2 L171.3,160.8 L175.0,163.7 L178.6,168.2 L182.3,172.7 L185.9,176.9 L189.6,179.8 L193.3,182.9 L196.9,184.3 L200.6,185.5 L204.2,188.4 L207.9,191.7 L211.5,195.1 L215.2,197.3 L218.9,198.7 L222.5,200.8 L226.2,200.9 L229.8,200.2 L233.5,199.5 L237.1,199.7 L240.8,198.7 L244.5,197.9 L248.1,199.3 L251.8,201.8 L255.4,204.0 L259.1,205.8 L262.7,207.8 L266.4,211.2 L270.1,215.3 L273.7,218.1 L277.4,219.7 L281.0,221.0 L284.7,221.9 L288.3,223.3 L292.0,225.3 L295.7,227.6 L299.3,229.5 L303.0,231.3 L306.6,233.1 L310.3,236.3 L313.9,240.5 L317.6,244.7 L321.3,247.8 L324.9,249.8 L328.6,251.8 L332.2,252.9 L335.9,252.7 L339.5,251.8 L343.2,250.3 L346.9,247.7 L350.5,244.7 L354.2,243.3 L357.8,242.7 L361.5,242.4 L365.1,242.1 L368.8,242.4 L372.5,243.7 L376.1,244.8 L379.8,244.8 L383.4,245.5 L387.1,246.3 L390.7,247.0 L394.4,246.6 L398.1,245.2 L401.7,244.2 L405.4,243.6 L409.0,242.8 L412.7,241.5 L416.3,240.6 L420.0,239.0 L423.7,236.6 L427.3,235.2 L431.0,235.4 L434.6,236.4 L438.3,236.1 L441.9,236.1 L445.6,236.7 L449.3,237.4 L452.9,239.2 L456.6,242.3 L460.2,246.2 L463.9,248.3 L467.5,251.0 L471.2,254.4 L474.9,257.3 L478.5,261.2 L482.2,263.7 L485.8,264.9 L489.5,265.4 L493.1,266.1 L496.8,267.2 L500.5,270.2 L504.1,274.0 L507.8,277.8 L511.4,282.0 L515.1,285.6 L518.7,287.8 L522.4,289.0 L526.1,289.7 L529.7,291.4 L533.4,292.8 L537.0,294.0 L540.7,294.3 L544.3,293.9 L548.0,293.3 L551.6,292.1 L555.3,291.8 L559.0,291.9 L562.6,291.3 L566.3,290.6 L569.9,292.0 L573.6,294.0 L577.2,295.6 L580.9,296.7 L584.6,297.8 L588.2,298.3 L591.9,298.4 L595.5,298.3 L597.2,296.9 L599.4,295.6" fill="none" stroke="#0000ff" stroke-width="1.85" stroke-linejoin="round" stroke-linecap="butt"/>
<path d="M3.1,83.0 L7.8,76.5 L13.3,68.7 L18.8,61.7 L25.0,56.2 L31.2,53.5 L35.2,53.0 L39.0,54.6 L43.8,59.3 L48.4,66.3 L51.6,70.0 L55.5,75.5 L58.6,81.0 L61.7,85.6 L64.8,88.4 L68.8,88.8 L72.7,89.5 L76.6,92.7 L80.5,95.8 L84.4,98.9 L87.5,103.6 L90.6,109.8 L94.6,116.0 L98.2,119.9 L101.8,123.6 L105.5,129.6 L109.2,138.2 L112.8,145.9 L116.5,151.7 L120.1,155.0 L123.8,155.9 L127.4,156.4 L131.1,158.6 L134.8,161.7 L138.4,165.1 L142.1,166.6 L145.7,168.3 L149.4,168.7 L153.0,168.2 L156.7,170.4 L160.4,173.2 L164.0,176.3 L167.7,182.0 L171.3,187.7 L175.0,192.6 L178.6,195.4 L182.3,198.4 L185.9,198.7 L189.6,199.0 L193.3,202.0 L196.9,205.6 L200.6,209.4 L204.2,211.1 L207.9,211.8 L211.5,213.5 L215.2,212.1 L218.9,209.5 L222.5,207.2 L226.2,206.6 L229.8,204.2 L233.5,202.2 L237.1,203.9 L240.8,207.3 L244.5,210.3 L248.1,212.4 L251.8,214.8 L255.4,219.4 L259.1,225.0 L262.7,228.4 L266.4,229.7 L270.1,230.7 L273.7,230.9 L277.4,232.1 L281.0,234.1 L284.7,236.9 L288.3,238.7 L292.0,240.4 L295.7,242.2 L299.3,246.3 L303.0,252.0 L306.6,257.3 L310.3,260.8 L313.9,262.3 L317.6,264.1 L321.3,264.3 L324.9,262.6 L328.6,259.8 L332.2,256.4 L335.9,251.4 L339.5,246.1 L343.2,243.6 L346.9,242.6 L350.5,242.1 L354.2,241.7 L357.8,242.3 L361.5,244.4 L365.1,246.0 L368.8,246.0 L372.5,246.9 L376.1,248.1 L379.8,248.9 L383.4,248.0 L387.1,245.6 L390.7,243.9 L394.4,243.0 L398.1,241.8 L401.7,239.8 L405.4,238.6 L409.0,236.1 L412.7,232.6 L416.3,230.8 L420.0,231.7 L423.7,233.8 L427.3,233.7 L431.0,234.0 L434.6,235.1 L438.3,236.5 L441.9,239.5 L445.6,244.5 L449.3,250.7 L452.9,253.4 L456.6,257.2 L460.2,262.0 L463.9,265.8 L467.5,271.1 L471.2,273.8 L474.9,274.5 L478.5,274.1 L482.2,274.1 L485.8,275.0 L489.5,278.9 L493.1,284.0 L496.8,288.8 L500.5,294.4 L504.1,298.7 L507.8,300.6 L511.4,300.9 L515.1,300.6 L518.7,302.0 L522.4,303.0 L526.1,303.6 L529.7,302.9 L533.4,301.1 L537.0,299.2 L540.7,296.7 L544.3,295.6 L548.0,295.2 L551.6,293.8 L555.3,292.4 L559.0,294.5 L562.6,297.5 L566.3,299.6 L569.9,300.9 L573.6,302.1 L577.2,302.4 L580.9,300.9 L584.6,298.8 L588.2,296.8 L591.9,294.5 L595.5,291.8" fill="none" stroke="#ff0000" stroke-width="1.85" stroke-linejoin="round" stroke-linecap="butt"/>
<path d="M3.1,63.2 L7.0,55.4 L10.9,49.2 L14.8,46.0 L19.5,44.8 L22.0,44.3 L24.2,44.2 L26.4,44.4 L28.1,45.3 L29.8,47.2 L31.2,50.0 L35.2,57.0 L38.3,64.0 L41.4,70.2 L45.3,76.2 L47.7,81.7 L50.0,87.2 L52.3,93.4 L55.5,97.3 L58.6,98.9 L62.5,96.6 L65.6,95.5 L68.8,97.3 L71.9,102.0 L76.6,103.6 L78.9,109.0 L81.2,116.9 L85.2,126.2 L87.3,129.7 L90.9,133.1 L94.5,136.4 L98.2,143.5 L101.8,154.5 L105.5,163.6 L109.2,169.3 L112.8,171.0 L116.5,169.3 L120.1,167.4 L123.8,168.7 L127.4,171.6 L131.1,175.1 L134.8,175.5 L138.4,176.5 L142.1,175.5 L145.7,173.2 L149.4,175.9 L153.0,179.2 L156.7,182.9 L160.4,190.8 L164.0,198.2 L167.7,203.8 L171.3,206.1 L175.0,208.8 L178.6,207.2 L182.3,206.0 L185.9,209.4 L189.6,213.7 L193.3,218.1 L196.9,219.1 L200.6,218.6 L204.2,220.0 L207.9,216.4 L211.5,211.4 L215.2,207.4 L218.9,206.3 L222.5,202.6 L226.2,199.6 L229.8,202.9 L233.5,208.6 L237.1,213.1 L240.8,215.9 L244.5,219.0 L248.1,225.6 L251.8,233.3 L255.4,237.0 L259.1,237.5 L262.7,237.4 L266.4,236.5 L270.1,237.2 L273.7,239.4 L277.4,242.8 L281.0,244.5 L284.7,246.1 L288.3,247.9 L292.0,253.2 L295.7,261.0 L299.3,267.6 L303.0,271.3 L306.6,271.6 L310.3,272.6 L313.9,271.2 L317.6,267.2 L321.3,261.7 L324.9,255.8 L328.6,248.0 L332.2,240.3 L335.9,237.4 L339.5,237.0 L343.2,237.3 L346.9,237.6 L350.5,239.4 L354.2,243.3 L357.8,246.2 L361.5,246.0 L365.1,247.5 L368.8,249.3 L372.5,250.4 L376.1,248.7 L379.8,244.6 L383.4,242.2 L387.1,241.0 L390.7,239.4 L394.4,236.8 L398.1,235.4 L401.7,232.1 L405.4,227.3 L409.0,225.5 L412.7,228.0 L416.3,232.0 L420.0,232.2 L423.7,233.1 L427.3,235.0 L431.0,237.3 L434.6,241.9 L438.3,249.5 L441.9,258.3 L445.6,261.1 L449.3,265.7 L452.9,271.6 L456.6,275.7 L460.2,282.3 L463.9,284.3 L467.5,283.4 L471.2,281.0 L474.9,279.6 L478.5,279.9 L482.2,285.2 L485.8,292.1 L489.5,298.2 L493.1,305.2 L496.8,310.0 L500.5,310.7 L504.1,309.2 L507.8,307.0 L511.4,308.0 L515.1,308.4 L518.7,308.3 L522.4,306.2 L526.1,302.8 L529.7,299.4 L533.4,295.3 L537.0,293.8 L540.7,293.5 L544.3,291.6 L548.0,289.8 L551.6,293.7 L555.3,298.6 L559.0,301.8 L562.6,303.4 L566.3,304.9 L569.9,304.8 L573.6,302.0 L577.2,298.3 L580.9,295.2 L584.6,291.9 L588.2,288.0" fill="none" stroke="#00ff00" stroke-width="1.85" stroke-linejoin="round" stroke-linecap="butt"/>
</g>
<rect x="2.8" y="202.3" width="600" height="57.0" fill="rgb(0,128,0)" fill-opacity="0.36"/>
<rect x="2.8" y="290.0" width="600" height="50.30000000000001" fill="rgb(255,0,0)" fill-opacity="0.37"/>
<line x1="2.8" x2="602.2" y1="202.3" y2="202.3" stroke="#050505" stroke-width="1.05"/>
<line x1="2.8" x2="602.2" y1="258.9" y2="258.9" stroke="rgb(50,95,50)" stroke-width="1.3"/>
<line x1="2.8" x2="602.2" y1="290.2" y2="290.2" stroke="rgb(130,15,15)" stroke-width="1.3"/>
<line x1="2.8" x2="602.2" y1="340.3" y2="340.3" stroke="rgb(120,12,12)" stroke-width="1.2"/>
<ellipse cx="593.3" cy="292" rx="9.8" ry="4.8" transform="rotate(35 593.3 292)" fill="rgb(255,220,40)" fill-opacity="0.55"/>
<line x1="582.2" y1="254" x2="598.6" y2="212" stroke="rgb(0,128,0)" stroke-width="2" stroke-dasharray="4.1 2"/>
<polygon points="601.8,203.8 602.2,214.6 593.6,210.6" fill="rgb(0,128,0)"/>
<line x1="584.5" y1="300.8" x2="598.6" y2="331" stroke="rgb(255,0,0)" stroke-width="2" stroke-dasharray="4.1 2"/>
<polygon points="602.2,339.2 602.2,328 593.4,332.6" fill="rgb(255,0,0)"/>
<g clip-path="url(#ca)">
<rect x="1.73" y="357.5" width="2.75" height="30.8" fill="#008000"/>
<rect x="5.38" y="357.5" width="2.75" height="30.8" fill="#ff0000"/>
<rect x="9.04" y="359.4" width="2.75" height="28.9" fill="#ff0000"/>
<rect x="12.70" y="362.5" width="2.75" height="25.8" fill="#ff0000"/>
<rect x="16.35" y="365.6" width="2.75" height="22.7" fill="#ff0000"/>
<rect x="20.01" y="371.0" width="2.75" height="17.3" fill="#ff0000"/>
<rect x="23.67" y="376.5" width="2.75" height="11.8" fill="#ff0000"/>
<rect x="27.32" y="383.6" width="2.75" height="4.7" fill="#ff0000"/>
<rect x="30.98" y="388.3" width="2.75" height="1.2" fill="#ff0000"/>
<rect x="34.64" y="388.3" width="2.75" height="8.2" fill="#ff0000"/>
<rect x="38.30" y="388.3" width="2.75" height="13.2" fill="#ff0000"/>
<rect x="41.95" y="388.3" width="2.75" height="17.2" fill="#ff0000"/>
<rect x="45.61" y="388.3" width="2.75" height="19.2" fill="#ff0000"/>
<rect x="49.27" y="388.3" width="2.75" height="20.3" fill="#ff0000"/>
<rect x="52.92" y="388.3" width="2.75" height="17.2" fill="#008000"/>
<rect x="56.58" y="388.3" width="2.75" height="15.3" fill="#008000"/>
<rect x="60.24" y="388.3" width="2.75" height="14.3" fill="#008000"/>
<rect x="63.89" y="388.3" width="2.75" height="13.2" fill="#008000"/>
<rect x="67.55" y="388.3" width="2.75" height="18.3" fill="#ff0000"/>
<rect x="71.21" y="388.3" width="2.75" height="26.2" fill="#ff0000"/>
<rect x="74.86" y="388.3" width="2.75" height="31.0" fill="#ff0000"/>
<rect x="78.52" y="388.3" width="2.75" height="33.7" fill="#ff0000"/>
<rect x="82.18" y="388.3" width="2.75" height="37.3" fill="#ff0000"/>
<rect x="85.84" y="388.3" width="2.75" height="39.2" fill="#ff0000"/>
<rect x="89.49" y="388.3" width="2.75" height="40.4" fill="#ff0000"/>
<rect x="93.15" y="388.3" width="2.75" height="42.3" fill="#ff0000"/>
<rect x="96.81" y="388.3" width="2.75" height="44.6" fill="#ff0000"/>
<rect x="100.46" y="388.3" width="2.75" height="45.7" fill="#ff0000"/>
<rect x="104.12" y="388.3" width="2.75" height="43.9" fill="#008000"/>
<rect x="107.78" y="388.3" width="2.75" height="38.4" fill="#008000"/>
<rect x="111.44" y="388.3" width="2.75" height="32.9" fill="#008000"/>
<rect x="115.09" y="388.3" width="2.75" height="29.3" fill="#008000"/>
<rect x="118.75" y="388.3" width="2.75" height="28.2" fill="#008000"/>
<rect x="122.41" y="388.3" width="2.75" height="27.7" fill="#008000"/>
<rect x="126.06" y="388.3" width="2.75" height="27.4" fill="#008000"/>
<rect x="129.72" y="388.3" width="2.75" height="24.7" fill="#008000"/>
<rect x="133.38" y="388.3" width="2.75" height="21.2" fill="#008000"/>
<rect x="137.03" y="388.3" width="2.75" height="18.6" fill="#008000"/>
<rect x="140.69" y="388.3" width="2.75" height="18.4" fill="#008000"/>
<rect x="144.35" y="388.3" width="2.75" height="18.2" fill="#008000"/>
<rect x="148.00" y="388.3" width="2.75" height="21.2" fill="#ff0000"/>
<rect x="151.66" y="388.3" width="2.75" height="26.4" fill="#ff0000"/>
<rect x="155.32" y="388.3" width="2.75" height="28.4" fill="#ff0000"/>
<rect x="158.98" y="388.3" width="2.75" height="29.5" fill="#ff0000"/>
<rect x="162.63" y="388.3" width="2.75" height="30.3" fill="#ff0000"/>
<rect x="166.29" y="388.3" width="2.75" height="26.2" fill="#008000"/>
<rect x="169.95" y="388.3" width="2.75" height="21.7" fill="#008000"/>
<rect x="173.60" y="388.3" width="2.75" height="20.1" fill="#008000"/>
<rect x="177.26" y="388.3" width="2.75" height="19.6" fill="#008000"/>
<rect x="180.92" y="388.3" width="2.75" height="19.3" fill="#008000"/>
<rect x="184.57" y="388.3" width="2.75" height="20.4" fill="#ff0000"/>
<rect x="188.23" y="388.3" width="2.75" height="20.6" fill="#ff0000"/>
<rect x="191.89" y="388.3" width="2.75" height="18.4" fill="#008000"/>
<rect x="195.55" y="388.3" width="2.75" height="15.7" fill="#008000"/>
<rect x="199.20" y="388.3" width="2.75" height="10.3" fill="#008000"/>
<rect x="202.86" y="388.3" width="2.75" height="6.4" fill="#008000"/>
<rect x="206.52" y="388.3" width="2.75" height="3.2" fill="#008000"/>
<rect x="210.17" y="386.8" width="2.75" height="1.5" fill="#008000"/>
<rect x="213.83" y="385.8" width="2.75" height="2.6" fill="#008000"/>
<rect x="217.49" y="388.3" width="2.75" height="0.9" fill="#ff0000"/>
<rect x="221.15" y="388.3" width="2.75" height="4.7" fill="#ff0000"/>
<rect x="224.80" y="388.3" width="2.75" height="6.4" fill="#ff0000"/>
<rect x="228.46" y="388.3" width="2.75" height="9.9" fill="#ff0000"/>
<rect x="232.12" y="388.3" width="2.75" height="12.6" fill="#ff0000"/>
<rect x="235.77" y="388.3" width="2.75" height="15.4" fill="#ff0000"/>
<rect x="239.43" y="388.3" width="2.75" height="17.3" fill="#ff0000"/>
<rect x="243.09" y="388.3" width="2.75" height="19.3" fill="#ff0000"/>
<rect x="246.74" y="388.3" width="2.75" height="19.5" fill="#ff0000"/>
<rect x="250.40" y="388.3" width="2.75" height="18.1" fill="#008000"/>
<rect x="254.06" y="388.3" width="2.75" height="14.9" fill="#008000"/>
<rect x="257.72" y="388.3" width="2.75" height="11.5" fill="#008000"/>
<rect x="261.37" y="388.3" width="2.75" height="9.9" fill="#008000"/>
<rect x="265.03" y="388.3" width="2.75" height="10.6" fill="#ff0000"/>
<rect x="268.69" y="388.3" width="2.75" height="11.7" fill="#ff0000"/>
<rect x="272.34" y="388.3" width="2.75" height="13.4" fill="#ff0000"/>
<rect x="276.00" y="388.3" width="2.75" height="14.2" fill="#ff0000"/>
<rect x="279.66" y="388.3" width="2.75" height="17.3" fill="#ff0000"/>
<rect x="283.31" y="388.3" width="2.75" height="19.9" fill="#ff0000"/>
<rect x="286.97" y="388.3" width="2.75" height="22.7" fill="#ff0000"/>
<rect x="290.63" y="388.3" width="2.75" height="25.1" fill="#ff0000"/>
<rect x="294.29" y="388.3" width="2.75" height="26.2" fill="#ff0000"/>
<rect x="297.94" y="388.3" width="2.75" height="25.4" fill="#008000"/>
<rect x="301.60" y="388.3" width="2.75" height="21.7" fill="#008000"/>
<rect x="305.26" y="388.3" width="2.75" height="17.0" fill="#008000"/>
<rect x="308.91" y="388.3" width="2.75" height="11.7" fill="#008000"/>
<rect x="312.57" y="388.3" width="2.75" height="7.9" fill="#008000"/>
<rect x="316.23" y="388.3" width="2.75" height="1.7" fill="#008000"/>
<rect x="319.88" y="383.0" width="2.75" height="5.3" fill="#008000"/>
<rect x="323.54" y="379.0" width="2.75" height="9.3" fill="#008000"/>
<rect x="327.20" y="378.2" width="2.75" height="10.1" fill="#008000"/>
<rect x="330.86" y="378.5" width="2.75" height="9.8" fill="#ff0000"/>
<rect x="334.51" y="380.4" width="2.75" height="7.9" fill="#ff0000"/>
<rect x="338.17" y="383.8" width="2.75" height="4.5" fill="#ff0000"/>
<rect x="341.83" y="386.7" width="2.75" height="1.6" fill="#ff0000"/>
<rect x="345.48" y="388.3" width="2.75" height="1.4" fill="#ff0000"/>
<rect x="349.14" y="388.3" width="2.75" height="1.1" fill="#ff0000"/>
<rect x="352.80" y="388.3" width="2.75" height="2.7" fill="#ff0000"/>
<rect x="356.45" y="388.3" width="2.75" height="2.7" fill="#ff0000"/>
<rect x="360.11" y="388.3" width="2.75" height="1.9" fill="#008000"/>
<rect x="363.77" y="388.3" width="2.75" height="1.1" fill="#008000"/>
<rect x="367.43" y="386.7" width="2.75" height="1.6" fill="#008000"/>
<rect x="371.08" y="385.0" width="2.75" height="3.3" fill="#008000"/>
<rect x="374.74" y="383.1" width="2.75" height="5.2" fill="#008000"/>
<rect x="378.40" y="381.1" width="2.75" height="7.2" fill="#008000"/>
<rect x="382.05" y="379.2" width="2.75" height="9.1" fill="#008000"/>
<rect x="385.71" y="380.0" width="2.75" height="8.3" fill="#ff0000"/>
<rect x="389.37" y="379.2" width="2.75" height="9.1" fill="#008000"/>
<rect x="393.02" y="376.9" width="2.75" height="11.4" fill="#008000"/>
<rect x="396.68" y="375.0" width="2.75" height="13.3" fill="#008000"/>
<rect x="400.34" y="376.6" width="2.75" height="11.7" fill="#ff0000"/>
<rect x="404.00" y="378.4" width="2.75" height="9.9" fill="#ff0000"/>
<rect x="407.65" y="381.2" width="2.75" height="7.1" fill="#ff0000"/>
<rect x="411.31" y="385.0" width="2.75" height="3.3" fill="#ff0000"/>
<rect x="414.97" y="388.3" width="2.75" height="0.9" fill="#ff0000"/>
<rect x="418.62" y="388.3" width="2.75" height="2.0" fill="#ff0000"/>
<rect x="422.28" y="388.3" width="2.75" height="3.3" fill="#ff0000"/>
<rect x="425.94" y="388.3" width="2.75" height="9.4" fill="#ff0000"/>
<rect x="429.59" y="388.3" width="2.75" height="14.5" fill="#ff0000"/>
<rect x="433.25" y="388.3" width="2.75" height="17.3" fill="#ff0000"/>
<rect x="436.91" y="388.3" width="2.75" height="20.4" fill="#ff0000"/>
<rect x="440.57" y="388.3" width="2.75" height="22.7" fill="#ff0000"/>
<rect x="444.22" y="388.3" width="2.75" height="22.5" fill="#008000"/>
<rect x="447.88" y="388.3" width="2.75" height="23.1" fill="#ff0000"/>
<rect x="451.54" y="388.3" width="2.75" height="24.0" fill="#ff0000"/>
<rect x="455.19" y="388.3" width="2.75" height="22.7" fill="#008000"/>
<rect x="458.85" y="388.3" width="2.75" height="20.4" fill="#008000"/>
<rect x="462.51" y="388.3" width="2.75" height="17.7" fill="#008000"/>
<rect x="466.16" y="388.3" width="2.75" height="14.7" fill="#008000"/>
<rect x="469.82" y="388.3" width="2.75" height="14.9" fill="#ff0000"/>
<rect x="473.48" y="388.3" width="2.75" height="18.4" fill="#ff0000"/>
<rect x="477.14" y="388.3" width="2.75" height="22.7" fill="#ff0000"/>
<rect x="480.79" y="388.3" width="2.75" height="27.7" fill="#ff0000"/>
<rect x="484.45" y="388.3" width="2.75" height="32.4" fill="#ff0000"/>
<rect x="488.11" y="388.3" width="2.75" height="31.4" fill="#008000"/>
<rect x="491.76" y="388.3" width="2.75" height="28.7" fill="#008000"/>
<rect x="495.42" y="388.3" width="2.75" height="24.7" fill="#008000"/>
<rect x="499.08" y="388.3" width="2.75" height="21.2" fill="#008000"/>
<rect x="502.73" y="388.3" width="2.75" height="18.4" fill="#008000"/>
<rect x="506.39" y="388.3" width="2.75" height="16.5" fill="#008000"/>
<rect x="510.05" y="388.3" width="2.75" height="14.3" fill="#008000"/>
<rect x="513.71" y="388.3" width="2.75" height="11.7" fill="#008000"/>
<rect x="517.36" y="388.3" width="2.75" height="8.2" fill="#008000"/>
<rect x="521.02" y="388.3" width="2.75" height="3.4" fill="#008000"/>
<rect x="524.68" y="388.3" width="2.75" height="1.1" fill="#008000"/>
<rect x="528.33" y="387.5" width="2.75" height="0.9" fill="#008000"/>
<rect x="531.99" y="386.7" width="2.75" height="1.6" fill="#008000"/>
<rect x="535.65" y="386.0" width="2.75" height="2.3" fill="#008000"/>
<rect x="539.30" y="387.2" width="2.75" height="1.1" fill="#ff0000"/>
<rect x="542.96" y="388.3" width="2.75" height="2.3" fill="#ff0000"/>
<rect x="546.62" y="388.3" width="2.75" height="3.9" fill="#ff0000"/>
<rect x="550.27" y="388.3" width="2.75" height="5.4" fill="#ff0000"/>
<rect x="553.93" y="388.3" width="2.75" height="8.6" fill="#ff0000"/>
<rect x="557.59" y="388.3" width="2.75" height="7.0" fill="#008000"/>
<rect x="561.25" y="388.3" width="2.75" height="3.4" fill="#008000"/>
<rect x="564.90" y="388.3" width="2.75" height="1.1" fill="#008000"/>
<rect x="568.56" y="386.0" width="2.75" height="2.3" fill="#008000"/>
<rect x="572.22" y="383.1" width="2.75" height="5.2" fill="#008000"/>
<rect x="575.87" y="380.3" width="2.75" height="8.0" fill="#008000"/>
</g>
<circle cx="574.8" cy="383.9" r="8" fill="rgb(255,220,40)" fill-opacity="0.58"/>
<line x1="2.3" x2="2.3" y1="1.9" y2="438.4" stroke="#1a1a1a" stroke-width="1"/>
<line x1="603.25" x2="603.25" y1="1.9" y2="438.4" stroke="#1a1a1a" stroke-width="1.25"/>
<line x1="1.8" x2="603.7" y1="2.4" y2="2.4" stroke="#1a1a1a" stroke-width="1"/>
<line x1="1.8" x2="603.7" y1="350.35" y2="350.35" stroke="#1a1a1a" stroke-width="0.95"/>
<line x1="1.8" x2="603.7" y1="352.25" y2="352.25" stroke="#1a1a1a" stroke-width="0.95"/>
<line x1="1.8" x2="603.7" y1="438.2" y2="438.2" stroke="#1a1a1a" stroke-width="1.1"/>
<rect x="602.1" y="201.8" width="2" height="58" fill="#fff"/><rect x="602.1" y="289.6" width="2" height="51.3" fill="#fff"/>
<line x1="602.75" x2="602.75" y1="201.8" y2="259.5" stroke="rgb(20,50,20)" stroke-width="1.1"/>
<line x1="602.75" x2="602.75" y1="289.6" y2="340.9" stroke="rgb(125,12,12)" stroke-width="1.1"/>
<polygon points="5,8 12,8 8.5,12" fill="#000"/>
<text x="16.8" y="12.7" font-size="9.3" fill="#000" textLength="64" lengthAdjust="spacingAndGlyphs">USCRUDE,Daily</text>
<text x="7" y="364.3" font-size="9.3" fill="#000" textLength="41" lengthAdjust="spacingAndGlyphs">AO 2.6112</text>
<line x1="603" x2="605.3" y1="15.7" y2="15.7" stroke="#1a1a1a" stroke-width="0.95"/>
<text x="608.2" y="18.8" font-size="9.0" fill="#000" textLength="30.8" lengthAdjust="spacingAndGlyphs">121.630</text>
<line x1="603" x2="605.3" y1="45.9" y2="45.9" stroke="#1a1a1a" stroke-width="0.95"/>
<text x="608.2" y="49.0" font-size="9.0" fill="#000" textLength="30.8" lengthAdjust="spacingAndGlyphs">116.870</text>
<line x1="603" x2="605.3" y1="76.1" y2="76.1" stroke="#1a1a1a" stroke-width="0.95"/>
<text x="608.2" y="79.2" font-size="9.0" fill="#000" textLength="30.8" lengthAdjust="spacingAndGlyphs">112.110</text>
<line x1="603" x2="605.3" y1="106.3" y2="106.3" stroke="#1a1a1a" stroke-width="0.95"/>
<text x="608.2" y="109.4" font-size="9.0" fill="#000" textLength="30.8" lengthAdjust="spacingAndGlyphs">107.350</text>
<line x1="603" x2="605.3" y1="136.5" y2="136.5" stroke="#1a1a1a" stroke-width="0.95"/>
<text x="608.2" y="139.6" font-size="9.0" fill="#000" textLength="30.8" lengthAdjust="spacingAndGlyphs">102.590</text>
<line x1="603" x2="605.3" y1="166.6" y2="166.6" stroke="#1a1a1a" stroke-width="0.95"/>
<text x="608.2" y="169.8" font-size="9.0" fill="#000" textLength="26.1" lengthAdjust="spacingAndGlyphs">97.830</text>
<line x1="603" x2="605.3" y1="196.8" y2="196.8" stroke="#1a1a1a" stroke-width="0.95"/>
<text x="608.2" y="200.0" font-size="9.0" fill="#000" textLength="26.1" lengthAdjust="spacingAndGlyphs">93.070</text>
<line x1="603" x2="605.3" y1="227.0" y2="227.0" stroke="#1a1a1a" stroke-width="0.95"/>
<text x="608.2" y="230.2" font-size="9.0" fill="#000" textLength="26.1" lengthAdjust="spacingAndGlyphs">88.310</text>
<line x1="603" x2="605.3" y1="317.6" y2="317.6" stroke="#1a1a1a" stroke-width="0.95"/>
<text x="608.2" y="320.7" font-size="9.0" fill="#000" textLength="26.1" lengthAdjust="spacingAndGlyphs">74.030</text>
<line x1="603" x2="605.3" y1="347.5" y2="347.5" stroke="#1a1a1a" stroke-width="0.95"/>
<text x="607.5" y="350.8" font-size="9.0" fill="#000" textLength="26.1" lengthAdjust="spacingAndGlyphs">69.410</text>
<rect x="604.7" y="196.3" width="32.2" height="10" fill="#000"/>
<text x="607.5" y="204.6" font-size="9.0" fill="#fff" stroke="#fff" stroke-width="0.2" textLength="26.1" lengthAdjust="spacingAndGlyphs">92.192</text>
<rect x="604.7" y="252.8" width="32.2" height="10" fill="#000"/>
<text x="607.5" y="261.1" font-size="9.0" fill="#fff" stroke="#fff" stroke-width="0.2" textLength="26.1" lengthAdjust="spacingAndGlyphs">83.281</text>
<rect x="604.7" y="267.9" width="32.2" height="10" fill="#000"/>
<text x="607.5" y="276.1" font-size="9.0" fill="#fff" stroke="#fff" stroke-width="0.2" textLength="26.1" lengthAdjust="spacingAndGlyphs">81.102</text>
<rect x="604.7" y="284.1" width="32.2" height="10" fill="#000"/>
<text x="607.5" y="292.4" font-size="9.0" fill="#fff" stroke="#fff" stroke-width="0.2" textLength="26.1" lengthAdjust="spacingAndGlyphs">78.439</text>
<rect x="604.7" y="334.4" width="32.2" height="10" fill="#000"/>
<text x="607.5" y="342.6" font-size="9.0" fill="#fff" stroke="#fff" stroke-width="0.2" textLength="26.1" lengthAdjust="spacingAndGlyphs">70.497</text>
<text x="606.8" y="361.9" font-size="9.0" fill="#000" textLength="30.8" lengthAdjust="spacingAndGlyphs">10.4715</text>
<line x1="603" x2="605.3" y1="388.5" y2="388.5" stroke="#1a1a1a" stroke-width="0.95"/>
<text x="606.8" y="392" font-size="9.0" fill="#000" textLength="16.7" lengthAdjust="spacingAndGlyphs">0.00</text>
<text x="606.5" y="435" font-size="9.0" fill="#000" textLength="33.1" lengthAdjust="spacingAndGlyphs">-14.3716</text>
<line x1="3.5" x2="3.5" y1="438" y2="441.3" stroke="#1a1a1a" stroke-width="0.95"/>
<text x="2.1" y="449.7" font-size="8.9" fill="#000" textLength="40.7" lengthAdjust="spacingAndGlyphs">9 Jun 2022</text>
<line x1="62.0" x2="62.0" y1="438" y2="441.3" stroke="#1a1a1a" stroke-width="0.95"/>
<text x="60.6" y="449.7" font-size="8.9" fill="#000" textLength="37" lengthAdjust="spacingAndGlyphs">1 Jul 2022</text>
<line x1="120.5" x2="120.5" y1="438" y2="441.3" stroke="#1a1a1a" stroke-width="0.95"/>
<text x="119.1" y="449.7" font-size="8.9" fill="#000" textLength="42.5" lengthAdjust="spacingAndGlyphs">25 Jul 2022</text>
<line x1="179.0" x2="179.0" y1="438" y2="441.3" stroke="#1a1a1a" stroke-width="0.95"/>
<text x="177.6" y="449.7" font-size="8.9" fill="#000" textLength="47.7" lengthAdjust="spacingAndGlyphs">16 Aug 2022</text>
<line x1="237.5" x2="237.5" y1="438" y2="441.3" stroke="#1a1a1a" stroke-width="0.95"/>
<text x="236.1" y="449.7" font-size="8.9" fill="#000" textLength="42.7" lengthAdjust="spacingAndGlyphs">7 Sep 2022</text>
<line x1="296.0" x2="296.0" y1="438" y2="441.3" stroke="#1a1a1a" stroke-width="0.95"/>
<text x="294.6" y="449.7" font-size="8.9" fill="#000" textLength="47" lengthAdjust="spacingAndGlyphs">29 Sep 2022</text>
<line x1="354.5" x2="354.5" y1="438" y2="441.3" stroke="#1a1a1a" stroke-width="0.95"/>
<text x="353.1" y="449.7" font-size="8.9" fill="#000" textLength="46.2" lengthAdjust="spacingAndGlyphs">21 Oct 2022</text>
<line x1="413.0" x2="413.0" y1="438" y2="441.3" stroke="#1a1a1a" stroke-width="0.95"/>
<text x="411.6" y="449.7" font-size="8.9" fill="#000" textLength="47.2" lengthAdjust="spacingAndGlyphs">14 Nov 2022</text>
<line x1="471.5" x2="471.5" y1="438" y2="441.3" stroke="#1a1a1a" stroke-width="0.95"/>
<text x="470.1" y="449.7" font-size="8.9" fill="#000" textLength="42.7" lengthAdjust="spacingAndGlyphs">6 Dec 2022</text>
<line x1="530.0" x2="530.0" y1="438" y2="441.3" stroke="#1a1a1a" stroke-width="0.95"/>
<text x="528.6" y="449.7" font-size="8.9" fill="#000" textLength="47" lengthAdjust="spacingAndGlyphs">29 Dec 2022</text>
</svg></body></html>
